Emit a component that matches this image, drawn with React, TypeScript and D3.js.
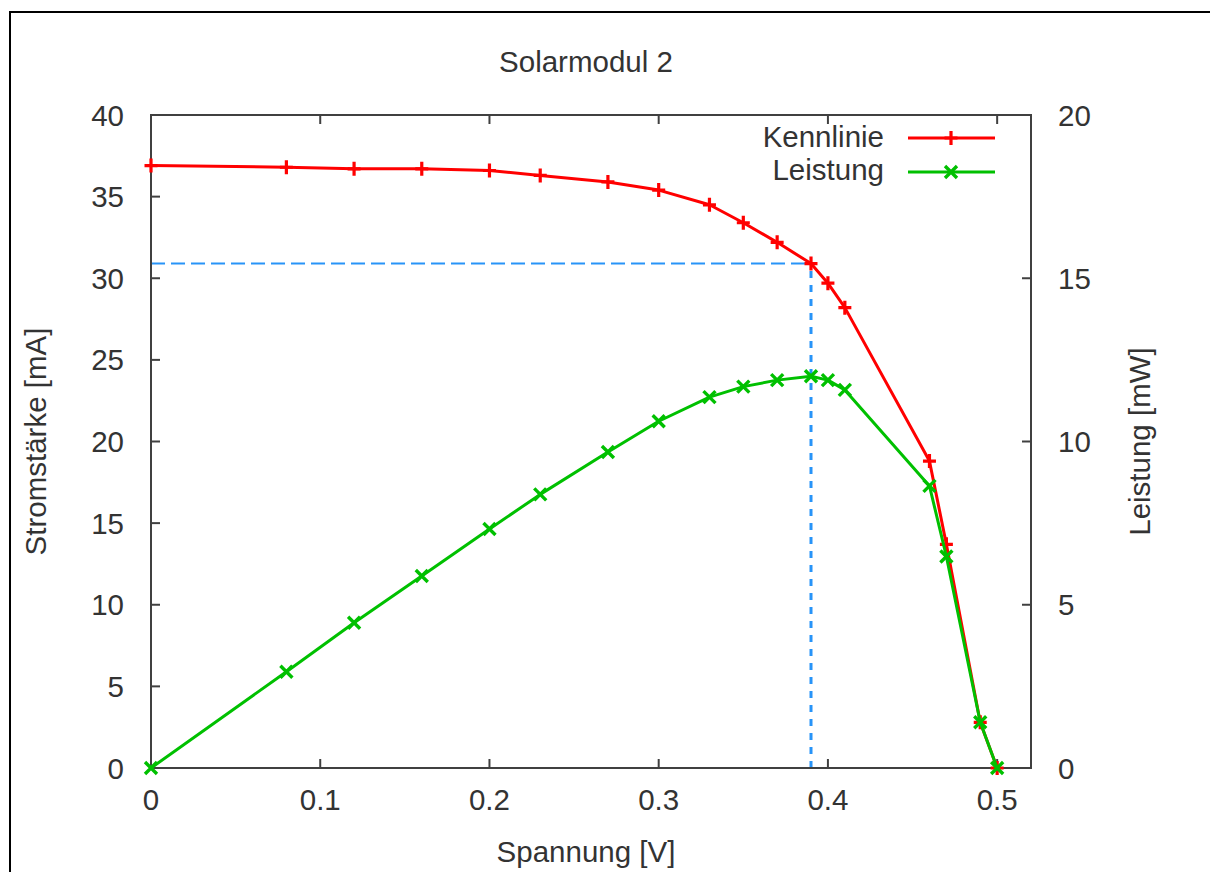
import React from "react";
import * as d3 from "d3";

const voltage = [0, 0.08, 0.12, 0.16, 0.2, 0.23, 0.27, 0.3, 0.33, 0.35, 0.37, 0.39, 0.4, 0.41, 0.46, 0.47, 0.49, 0.5];
const current = [36.9, 36.8, 36.7, 36.7, 36.6, 36.3, 35.9, 35.4, 34.5, 33.4, 32.2, 30.9, 29.7, 28.2, 18.8, 13.7, 2.8, 0];
const power = [0, 2.95, 4.45, 5.88, 7.32, 8.38, 9.68, 10.62, 11.36, 11.68, 11.88, 12.0, 11.88, 11.58, 8.64, 6.48, 1.4, 0];
const xTicks = [0, 0.1, 0.2, 0.3, 0.4, 0.5];
const yTicks = [0, 5, 10, 15, 20, 25, 30, 35, 40];
const y2Ticks = [0, 5, 10, 15, 20];
const mppVoltage = 0.39;
const mppCurrent = 30.9;
const seriesNames = ["Kennlinie", "Leistung"];
const title = "Solarmodul 2";
const xLabel = "Spannung [V]";
const yLabel = "Stromstärke [mA]";
const y2Label = "Leistung [mW]";

const W = 1210;
const H = 872;
const L = 151, R = 1031, T = 115, B = 768;
const FONT = "'Liberation Sans', Arial, sans-serif";
const FS = 29.5;
const TXT = "#333333";
const AX = "#404040";
const RED = "#ff0000";
const GREEN = "#00c000";
const BLUE = "#2894f8";

export default function App() {
  const x = d3.scaleLinear().domain([0, 0.52]).range([L, R]);
  const y = d3.scaleLinear().domain([0, 40]).range([B, T]);
  const y2 = d3.scaleLinear().domain([0, 20]).range([B, T]);

  const lineI = d3.line<number>().x((_, i) => x(voltage[i])).y((d) => y(d));
  const lineP = d3.line<number>().x((_, i) => x(voltage[i])).y((d) => y2(d));

  const tl = 9;
  const plus = (cx: number, cy: number, k: string, c: string) => (
    <path key={k} d={`M${cx - 6.5},${cy}H${cx + 6.5}M${cx},${cy - 7}V${cy + 7}`} stroke={c} strokeWidth={3.2} fill="none" />
  );
  const cross = (cx: number, cy: number, k: string, c: string) => (
    <path key={k} d={`M${cx - 6},${cy - 6}L${cx + 6},${cy + 6}M${cx - 6},${cy + 6}L${cx + 6},${cy - 6}`} stroke={c} strokeWidth={3.4} fill="none" />
  );

  return (
    <svg width={W} height={H} style={{ position: "absolute", left: 0, top: 0, background: "#fff" }} fontFamily={FONT}>
      <rect x={0} y={0} width={W} height={H} fill="#fff" />
      {/* outer frame */}
      <path d={`M10,${H + 5}V12H${W + 5}`} stroke="#000" strokeWidth={2} fill="none" />

      {/* title */}
      <text x={586} y={72} textAnchor="middle" fontSize={FS} fill={TXT}>{title}</text>

      {/* MPP guide lines */}
      <line x1={x(0)} x2={x(mppVoltage)} y1={y(mppCurrent)} y2={y(mppCurrent)} stroke={BLUE} strokeWidth={2} strokeDasharray="14,6" />
      <line x1={x(mppVoltage)} x2={x(mppVoltage)} y1={y(0)} y2={y(mppCurrent)} stroke={BLUE} strokeWidth={3} strokeDasharray="7,7" />

      {/* axes box */}
      <rect x={L} y={T} width={R - L} height={B - T} fill="none" stroke={AX} strokeWidth={2} />
      {xTicks.map((t) => (
        <g key={"xt" + t}>
          <line x1={x(t)} x2={x(t)} y1={B} y2={B - tl} stroke={AX} strokeWidth={2} />
          <line x1={x(t)} x2={x(t)} y1={T} y2={T + tl} stroke={AX} strokeWidth={2} />
          <text x={x(t)} y={810} textAnchor="middle" fontSize={FS} fill={TXT}>{t === 0 ? "0" : String(t)}</text>
        </g>
      ))}
      {yTicks.map((t) => (
        <g key={"yt" + t}>
          <line x1={L} x2={L + tl} y1={y(t)} y2={y(t)} stroke={AX} strokeWidth={2} />
          <text x={124} y={y(t) + 10.5} textAnchor="end" fontSize={FS} fill={TXT}>{t}</text>
        </g>
      ))}
      {y2Ticks.map((t) => (
        <g key={"y2t" + t}>
          <line x1={R} x2={R - tl} y1={y2(t)} y2={y2(t)} stroke={AX} strokeWidth={2} />
          <text x={1058} y={y2(t) + 10.5} textAnchor="start" fontSize={FS} fill={TXT}>{t}</text>
        </g>
      ))}

      {/* axis labels */}
      <text x={586} y={862} textAnchor="middle" fontSize={FS} fill={TXT}>{xLabel}</text>
      <text transform={`translate(46,${(T + B) / 2}) rotate(-90)`} textAnchor="middle" fontSize={FS} fill={TXT}>{yLabel}</text>
      <text transform={`translate(1150,${(T + B) / 2}) rotate(-90)`} textAnchor="middle" fontSize={FS} fill={TXT}>{y2Label}</text>

      {/* series */}
      <path d={lineI(current) || ""} fill="none" stroke={RED} strokeWidth={3} strokeLinejoin="round" />
      {current.map((d, i) => plus(x(voltage[i]), y(d), "p" + i, RED))}
      <path d={lineP(power) || ""} fill="none" stroke={GREEN} strokeWidth={3} strokeLinejoin="round" />
      {power.map((d, i) => cross(x(voltage[i]), y2(d), "c" + i, GREEN))}

      {/* legend */}
      <text x={884} y={147} textAnchor="end" fontSize={FS} fill={TXT}>{seriesNames[0]}</text>
      <line x1={908} x2={995} y1={138} y2={138} stroke={RED} strokeWidth={3} />
      {plus(951, 138, "lp", RED)}
      <text x={884} y={180} textAnchor="end" fontSize={FS} fill={TXT}>{seriesNames[1]}</text>
      <line x1={908} x2={995} y1={172} y2={172} stroke={GREEN} strokeWidth={3} />
      {cross(951, 172, "lc", GREEN)}
    </svg>
  );
}
